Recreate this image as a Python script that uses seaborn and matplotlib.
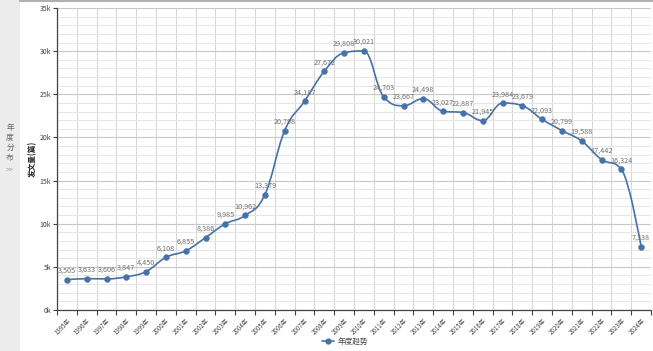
import seaborn as sns
import matplotlib.pyplot as plt
import matplotlib.ticker as mticker
import matplotlib.transforms as mtransforms
from matplotlib.path import Path
from matplotlib.patches import PathPatch
import pandas as pd
import numpy as np

# Данные
years = ['1995年', '1996年', '1997年', '1998年', '1999年', '2000年', '2001年', '2002年',
         '2003年', '2004年', '2005年', '2006年', '2007年', '2008年', '2009年', '2010年',
         '2011年', '2012年', '2013年', '2014年', '2015年', '2016年', '2017年', '2018年',
         '2019年', '2020年', '2021年', '2022年', '2023年', '2024年']
counts = [3505, 3633, 3606, 3847, 4450, 6108, 6855, 8386, 9985, 10962, 13379, 20798,
          24187, 27672, 29808, 30021, 24703, 23667, 24498, 23027, 22887, 21945, 23984,
          23679, 22093, 20799, 19588, 17442, 16324, 7338]
series_name = '年度趋势'

df = pd.DataFrame({'year': years, 'count': counts})
df['pos'] = np.arange(len(df))

line_color = '#4572A7'

sns.set_style('white')
plt.rcParams['font.family'] = ['Noto Sans CJK SC', 'DejaVu Sans']

fig = plt.figure(figsize=(6.53, 3.51), dpi=100)
ax = fig.add_axes([57 / 653, 41 / 351, 594 / 653, 302 / 351])


# Сглаженная линия (как spline в Highcharts)
def spline_path(xs, ys, smoothing=1.5):
    denom = smoothing + 1
    n = len(xs)
    right = [None] * n
    verts = [(xs[0], ys[0])]
    codes = [Path.MOVETO]
    for i in range(1, n):
        x, y = xs[i], ys[i]
        lx, ly = xs[i - 1], ys[i - 1]
        lcx, lcy = x, y
        if i < n - 1:
            nx, ny = xs[i + 1], ys[i + 1]
            lcx = (smoothing * x + lx) / denom
            lcy = (smoothing * y + ly) / denom
            rcx = (smoothing * x + nx) / denom
            rcy = (smoothing * y + ny) / denom
            corr = (rcy - lcy) * (rcx - x) / (rcx - lcx) + y - rcy
            lcy += corr
            rcy += corr
            if lcy > ly and lcy > y:
                lcy = max(ly, y)
                rcy = 2 * y - lcy
            elif lcy < ly and lcy < y:
                lcy = min(ly, y)
                rcy = 2 * y - lcy
            if rcy > ny and rcy > y:
                rcy = max(ny, y)
                lcy = 2 * y - rcy
            elif rcy < ny and rcy < y:
                rcy = min(ny, y)
                lcy = 2 * y - rcy
            right[i] = (rcx, rcy)
        p = right[i - 1] if right[i - 1] is not None else (lx, ly)
        verts += [p, (lcx, lcy), (x, y)]
        codes += [Path.CURVE4] * 3
    return Path(verts, codes)


ax.add_patch(PathPatch(spline_path(df['pos'].tolist(), df['count'].tolist()),
                       facecolor='none', edgecolor=line_color, lw=1.2, zorder=3))
sns.scatterplot(data=df, x='pos', y='count', ax=ax, color=line_color, s=18,
                edgecolor=line_color, linewidth=0.3, zorder=4, legend=False)

# Подписи значений
for x, y in zip(df['pos'], df['count']):
    ax.annotate(f'{y:,}', (x, y), xytext=(0, 3.5), textcoords='offset points',
                ha='center', va='bottom', fontsize=5.2, color='#707070', zorder=5)

# Оси
ax.set_xlim(-0.5, len(df) - 0.5)
ax.set_ylim(0, 35000)
ax.yaxis.set_major_locator(mticker.MultipleLocator(5000))
ax.yaxis.set_minor_locator(mticker.MultipleLocator(1000))
ax.yaxis.set_major_formatter(mticker.FuncFormatter(lambda v, p: f'{int(v / 1000)}k'))
ax.set_xticks(df['pos'])
ax.set_xticklabels(df['year'], rotation=45, ha='right', rotation_mode='anchor',
                   fontsize=4.4, color='#444444')
shift = mtransforms.ScaledTranslation(6 / 100, 0, fig.dpi_scale_trans)
for lbl in ax.get_xticklabels():
    lbl.set_transform(lbl.get_transform() + shift)
ax.xaxis.set_minor_locator(mticker.FixedLocator(np.arange(-0.5, len(df), 1)))
ax.tick_params(axis='x', which='major', length=0, pad=5)
ax.tick_params(axis='x', which='minor', length=3.5, width=0.8, color='#444444',
               direction='out', bottom=True)
ax.tick_params(axis='y', which='major', length=3, width=0.8, color='#444444',
               labelsize=5, labelcolor='#444444', pad=1, left=True)
ax.tick_params(axis='y', which='minor', length=0)

ax.grid(False)
ax.grid(axis='y', which='major', color='#c8c8c8', lw=0.8, zorder=0)
ax.grid(axis='y', which='minor', color='#e6e6e6', lw=0.7, zorder=0)
ax.grid(axis='x', which='minor', color='#d8d8d8', lw=0.8, zorder=0)
ax.set_axisbelow(True)

for side in ['top', 'right']:
    ax.spines[side].set_visible(False)
for side in ['left', 'bottom']:
    ax.spines[side].set_color('#444444')
    ax.spines[side].set_linewidth(0.9)

ax.set_xlabel('')
ax.set_ylabel('发文量(篇)', fontsize=5.5, color='#222222', fontweight='bold', labelpad=2)

# Легенда
handle = plt.Line2D([], [], color=line_color, marker='o', markersize=3.5, lw=1.2)
fig.legend([handle], [series_name], loc='center', bbox_to_anchor=(345 / 653, 1 - 342 / 351),
           frameon=False, fontsize=5.5, handlelength=1.6, handletextpad=0.4,
           labelcolor='#444444')

# Боковая панель
fig.patches.append(plt.Rectangle((0, 0), 20 / 653, 1, transform=fig.transFigure,
                                 facecolor='#ececec', edgecolor='none', zorder=0))
fig.add_artist(plt.Line2D([20 / 653, 1], [1 - 1 / 351, 1 - 1 / 351], color='#b0b0b0', lw=1.5))
for i, ch in enumerate('年度分布'):
    fig.text(10 / 653, 1 - (128 + i * 10) / 351, ch, ha='center', va='center',
             fontsize=5.5, color='#666666')
fig.text(10 / 653, 1 - 170 / 351, '>>', ha='center', va='center', fontsize=5, color='#999999')

plt.savefig('out.png', dpi=100)
